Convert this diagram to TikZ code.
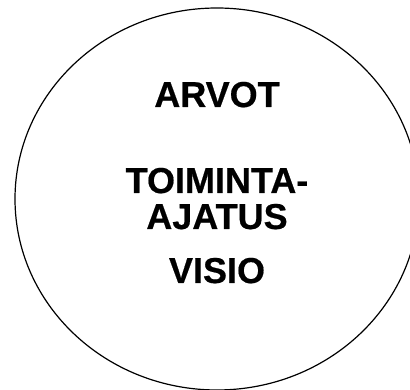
\documentclass[tikz,border=0pt]{standalone}
\usepackage{fontspec}
\setmainfont{Liberation Sans}
\newfontfamily\heavyfont{Liberation Sans}[UprightFont=*-Bold,FakeBold=0.5]
\usetikzlibrary{shapes.geometric}
\begin{document}
\begin{tikzpicture}[x=1pt,y=1pt,
  lbl/.style={anchor=base,inner sep=0pt,font=\fontsize{36}{38}\heavyfont}]
\useasboundingbox (0,0) rectangle (410,390);
\begin{scope}
\clip (0,0) rectangle (410,390);
\node[draw,line width=1.2pt,ellipse,minimum width=404pt,minimum height=382pt,inner sep=0pt] (circ) at (217,191) {};
\end{scope}
\node[lbl] (arvot) at (217,283) {ARVOT};
\node[lbl] (toim) at (217,197) {TOIMINTA-};
\node[lbl] (ajat) at (217,161) {AJATUS};
\node[lbl] (visio) at (217,107) {VISIO};
\end{tikzpicture}
\end{document}
